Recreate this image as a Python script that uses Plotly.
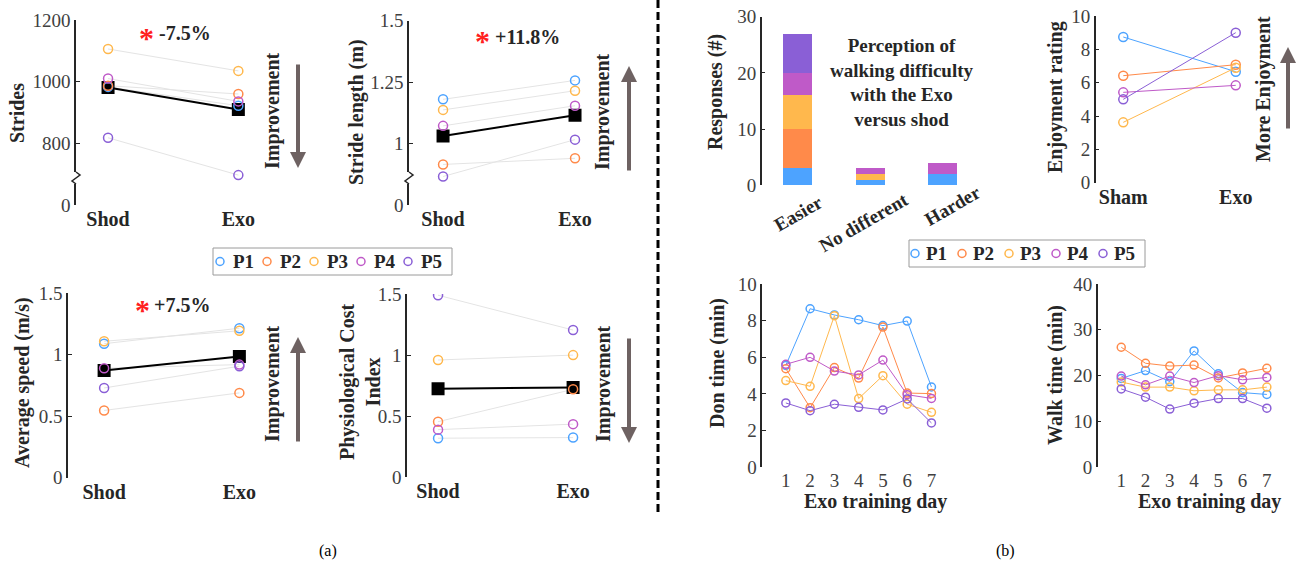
import plotly.graph_objects as go

W, H = 1299, 566
FONT = "Liberation Serif"
TXT = "#262626"
TICK = "#404040"
ARROW = "#6e6262"

participants = ["P1", "P2", "P3", "P4", "P5"]
p_colors = ["#4DA3FF", "#FF8A4A", "#FFB84D", "#BF5AC8", "#8A5FD6"]
conditions = ["Shod", "Exo"]

# (a) gait outcomes, order P1..P5
strides_shod = [983, 987, 1106, 1010, 818]
strides_exo = [922, 960, 1035, 936, 697]
strides_mean = [981, 910]

stride_len_shod = [1.18, 0.915, 1.137, 1.072, 0.866]
stride_len_exo = [1.257, 0.94, 1.215, 1.154, 1.016]
stride_len_mean = [1.031, 1.115]

speed_shod = [1.09, 0.547, 1.11, 0.89, 0.73]
speed_exo = [1.216, 0.69, 1.195, 0.92, 0.907]
speed_mean = [0.872, 0.986]

pci_shod = [0.32, 0.455, 0.96, 0.39, 1.49]
pci_exo = [0.325, 0.72, 1.0, 0.435, 1.205]
pci_mean = [0.725, 0.735]

# (b) perception responses
resp_cats = ["Easier", "No different", "Harder"]
resp_p1 = [3, 1, 2]
resp_p2 = [7, 0, 0]
resp_p3 = [6, 1, 0]
resp_p4 = [4, 1, 2]
resp_p5 = [7, 0, 0]

enjoy_conditions = ["Sham", "Exo"]
enjoy_sham = [8.74, 6.42, 3.62, 5.42, 5.0]
enjoy_exo = [6.66, 7.08, 6.9, 5.84, 9.0]

days = [1, 2, 3, 4, 5, 6, 7]
don_p1 = [5.56, 8.65, 8.31, 8.05, 7.73, 7.98, 4.38]
don_p2 = [5.38, 3.25, 5.44, 4.87, 7.65, 4.05, 4.02]
don_p3 = [4.73, 4.42, 8.27, 3.75, 5.0, 3.44, 3.0]
don_p4 = [5.62, 6.0, 5.25, 5.04, 5.85, 3.96, 3.76]
don_p5 = [3.51, 3.09, 3.44, 3.27, 3.13, 3.73, 2.42]

walk_p1 = [19.4, 21.1, 18.7, 25.4, 20.4, 16.3, 15.9]
walk_p2 = [26.2, 22.7, 22.1, 22.3, 19.5, 20.6, 21.6]
walk_p3 = [18.6, 17.5, 17.5, 16.7, 16.9, 16.9, 17.5]
walk_p4 = [19.9, 18.0, 19.9, 18.5, 20.0, 19.1, 19.6]
walk_p5 = [17.1, 15.3, 12.7, 14.0, 15.0, 15.0, 12.9]


def px(x):
    return x / W


def py(y):
    return 1 - y / H


fig = go.Figure()
lay = {}


def add_axes(i, xpx, ypx, xrange, yrange, yticks=None, ytext=None, dtick=None,
             xbold=False):
    xn = "xaxis" if i == 1 else f"xaxis{i}"
    yn = "yaxis" if i == 1 else f"yaxis{i}"
    xa = "x" if i == 1 else f"x{i}"
    ya = "y" if i == 1 else f"y{i}"
    xfont = dict(family=FONT, size=20 if xbold else 19, color=TXT if xbold else TICK,
                 weight="bold" if xbold else "normal")
    lay[xn] = dict(domain=[px(xpx[0]), px(xpx[1])], range=xrange, anchor=ya,
                   showline=False, showgrid=False, zeroline=False, ticks="",
                   tickfont=xfont, automargin=False, fixedrange=True)
    yd = dict(domain=[py(ypx[1]), py(ypx[0])], range=yrange, anchor=xa,
              showline=True, linecolor=TXT, linewidth=1.5, ticks="inside",
              ticklen=4, tickcolor=TXT, tickwidth=1.2, showgrid=False,
              zeroline=False, automargin=False, fixedrange=True,
              tickfont=dict(family=FONT, size=19, color=TICK))
    if yticks is not None:
        yd["tickvals"] = yticks
        yd["ticktext"] = ytext
    if dtick is not None:
        yd["dtick"] = dtick
        yd["tick0"] = 0
    lay[yn] = yd
    return xa, ya


def paired_panel(i, xpx, ypx, xrange, yrange, shod, exo, mean, yticks, ytext):
    xa, ya = add_axes(i, xpx, ypx, xrange, yrange, yticks, ytext, xbold=True)
    for k in range(5):
        fig.add_trace(go.Scatter(x=conditions, y=[shod[k], exo[k]], mode="lines",
                                 line=dict(color="#e4e4e4", width=1),
                                 hoverinfo="skip", xaxis=xa, yaxis=ya))
    fig.add_trace(go.Scatter(x=conditions, y=mean, mode="lines+markers",
                             line=dict(color="black", width=2),
                             marker=dict(symbol="square", size=13, color="black"),
                             xaxis=xa, yaxis=ya))
    for k in range(5):
        fig.add_trace(go.Scatter(x=conditions, y=[shod[k], exo[k]], mode="markers",
                                 name=participants[k],
                                 marker=dict(symbol="circle-open", size=9, color=p_colors[k],
                                             line=dict(width=1.5)),
                                 xaxis=xa, yaxis=ya))


paired_panel(1, (76, 303.5), (20, 205), [-0.246, 1.5], [600, 1200],
             strides_shod, strides_exo, strides_mean,
             [600, 800, 1000, 1200], ["0", "800", "1000", "1200"])
paired_panel(2, (409, 641), (20.7, 205), [-0.258, 1.5], [0.75, 1.5],
             stride_len_shod, stride_len_exo, stride_len_mean,
             [0.75, 1, 1.25, 1.5], ["0", "1", "1.25", "1.5"])
paired_panel(3, (68, 307), (293.3, 477.7), [-0.267, 1.5], [0, 1.5],
             speed_shod, speed_exo, speed_mean,
             [0, 0.5, 1, 1.5], ["0", "0.5", "1", "1.5"])
paired_panel(4, (407, 640.6), (294, 477.3), [-0.23, 1.5], [0, 1.5],
             pci_shod, pci_exo, pci_mean,
             [0, 0.5, 1, 1.5], ["0", "0.5", "1", "1.5"])

# responses stacked bar
xa, ya = add_axes(5, (761.7, 979), (16.7, 185.3), [-0.5, 2.5], [0, 30], dtick=10, xbold=True)
lay["xaxis5"]["showticklabels"] = False
for k, vals in enumerate([resp_p1, resp_p2, resp_p3, resp_p4, resp_p5]):
    fig.add_trace(go.Bar(x=resp_cats, y=vals, name=participants[k],
                         marker=dict(color=p_colors[k], line=dict(width=0)),
                         width=0.4, xaxis=xa, yaxis=ya))

# enjoyment
xa, ya = add_axes(6, (1095.7, 1292), (16, 182.7), [-0.245, 1.5], [0, 10], dtick=2, xbold=True)
for k in range(5):
    fig.add_trace(go.Scatter(x=enjoy_conditions, y=[enjoy_sham[k], enjoy_exo[k]],
                             mode="lines+markers", name=participants[k],
                             line=dict(color=p_colors[k], width=1),
                             marker=dict(symbol="circle-open", size=9, color=p_colors[k],
                                         line=dict(width=1.5)),
                             xaxis=xa, yaxis=ya))

# don / walk time
for i, xpx, yrange, dt, series in [
    (7, (762.3, 943.6), [0, 10], 2, [don_p1, don_p2, don_p3, don_p4, don_p5]),
    (8, (1097.7, 1279), [0, 40], 10, [walk_p1, walk_p2, walk_p3, walk_p4, walk_p5]),
]:
    xa, ya = add_axes(i, xpx, (284, 467.3), [0.03, 7.5], yrange, dtick=dt)
    lay[f"xaxis{i}"]["tickvals"] = days
    for k in range(5):
        fig.add_trace(go.Scatter(x=days, y=series[k], mode="lines+markers", name=participants[k],
                                 line=dict(color=p_colors[k], width=1),
                                 marker=dict(symbol="circle-open", size=8, color=p_colors[k],
                                             line=dict(width=1.5)),
                                 xaxis=xa, yaxis=ya))

ann = []


def text(xp, yp, s, size=20, bold=True, angle=0, color=TXT, xanchor="center"):
    ann.append(dict(x=px(xp), y=py(yp), xref="paper", yref="paper", showarrow=False,
                    text=f"<b>{s}</b>" if bold else s, textangle=angle,
                    xanchor=xanchor, yanchor="middle",
                    font=dict(family=FONT, size=size, color=color)))


def arrow(xp, tail, tip):
    ann.append(dict(x=px(xp), y=py(tip), xref="paper", yref="paper", showarrow=True,
                    ax=0, ay=tail - tip, axref="pixel", ayref="pixel", text="",
                    arrowhead=2, arrowsize=0.8, arrowwidth=4, arrowcolor=ARROW))


# custom compact legends (participant keys)
shapes = []
for i, box, gap in [(9, (213, 452, 248, 275), 0.24), (10, (909, 1145, 240, 267), 0.19)]:
    x0, x1, y0, y1 = box
    unit = 47.0
    first = (7.0 if i == 9 else 6.0) / unit
    lay[f"xaxis{i}"] = dict(domain=[px(x0), px(x1)], range=[-first, -first + (x1 - x0) / unit],
                            visible=False, fixedrange=True, anchor=f"y{i}")
    lay[f"yaxis{i}"] = dict(domain=[py(y1), py(y0)], range=[-1, 1], visible=False,
                            fixedrange=True, anchor=f"x{i}")
    shapes.append(dict(type="rect", xref="paper", yref="paper", x0=px(x0), x1=px(x1),
                       y0=py(y1), y1=py(y0), line=dict(color="#9a9a9a", width=1),
                       fillcolor="white", layer="below"))
    fig.add_trace(go.Scatter(x=list(range(len(participants))), y=[0] * len(participants),
                             mode="markers", hoverinfo="skip",
                             marker=dict(symbol="circle-open", size=8, color=p_colors,
                                         line=dict(width=1.5)),
                             xaxis=f"x{i}", yaxis=f"y{i}"))
    for k, name in enumerate(participants):
        ann.append(dict(x=k + gap, y=0, xref=f"x{i}", yref=f"y{i}", showarrow=False,
                        text=f"<b>{name}</b>", xanchor="left", yanchor="middle",
                        font=dict(family=FONT, size=19, color=TXT)))

# y titles
text(17, 113, "Strides", angle=-90)
text(357, 112, "Stride length (m)", angle=-90)
text(22, 383, "Average speed (m/s)", angle=-90)
text(360, 382, "<b>Physiological Cost</b><br><b>Index</b>", bold=False, angle=-90)
text(715, 92, "Responses (#)", angle=-90)
text(1055, 97, "Enjoyment rating", angle=-90)
text(717, 363, "Don time (min)", angle=-90)
text(1055, 375, "Walk time (min)", angle=-90)
text(875, 501, "Exo training day")
text(1209, 501, "Exo training day")

# rotated category labels for responses
for idx, (cat, dx, yc) in enumerate(zip(resp_cats, [0, -7, 10], [213, 222, 205])):
    ann.append(dict(x=idx, y=py(yc), xref="x5", yref="paper", showarrow=False,
                    text=f"<b>{cat}</b>", textangle=-30, xanchor="center", yanchor="middle",
                    xshift=dx, font=dict(family=FONT, size=19, color=TXT)))

# improvement labels / arrows
text(272, 111, "Improvement", angle=-90)
text(603, 112, "Improvement", angle=-90)
text(272, 384, "Improvement", angle=-90)
text(603, 384, "Improvement", angle=-90)
text(1263, 89, "More Enjoyment", angle=-90)
arrow(298, 63, 168)
arrow(629, 172, 66)
arrow(298, 443, 337)
arrow(629, 337, 443)
arrow(1288, 130, 47)

# significance
for xs, xt, yy, s in [(146, 157, 33, "-7.5%"), (482, 493, 37, "+11.8%"), (142, 152, 305, "+7.5%")]:
    text(xs, yy + 4, "*", size=30, color="#ff2020")
    text(xt, yy, s, xanchor="left")

# perception title
text(902, 82, "Perception of<br>walking difficulty<br>with the Exo<br>versus shod", size=19)

# panel labels
text(328, 551, "(a)", size=16, bold=False, color="black")
text(1005, 551, "(b)", size=16, bold=False, color="black")

shapes.append(dict(type="line", xref="paper", yref="paper", x0=px(658), x1=px(658),
                   y0=py(0), y1=py(512), line=dict(color="black", width=3, dash="8px,4px")))

# axis breaks
for ax_x, yb in [(76, 178), (409, 178)]:
    shapes.append(dict(type="rect", xref="paper", yref="paper", x0=px(ax_x - 3), x1=px(ax_x + 3),
                       y0=py(yb + 6), y1=py(yb - 6), fillcolor="white", line=dict(width=0),
                       layer="above"))
    path = (f"M{px(ax_x)},{py(yb - 6)} L{px(ax_x + 4)},{py(yb - 3)} "
            f"L{px(ax_x - 4)},{py(yb + 3)} L{px(ax_x)},{py(yb + 6)}")
    shapes.append(dict(type="path", xref="paper", yref="paper", path=path,
                       line=dict(color=TXT, width=1.5), layer="above"))

fig.update_layout(
    width=W, height=H, margin=dict(l=0, r=0, t=0, b=0),
    paper_bgcolor="white", plot_bgcolor="white",
    barmode="stack", showlegend=False,
    annotations=ann, shapes=shapes,
    font=dict(family=FONT),
    **lay,
)

fig.write_html("out.html", config={"displayModeBar": False},
               post_script="document.body.style.margin='0';document.body.style.overflow='hidden';")
